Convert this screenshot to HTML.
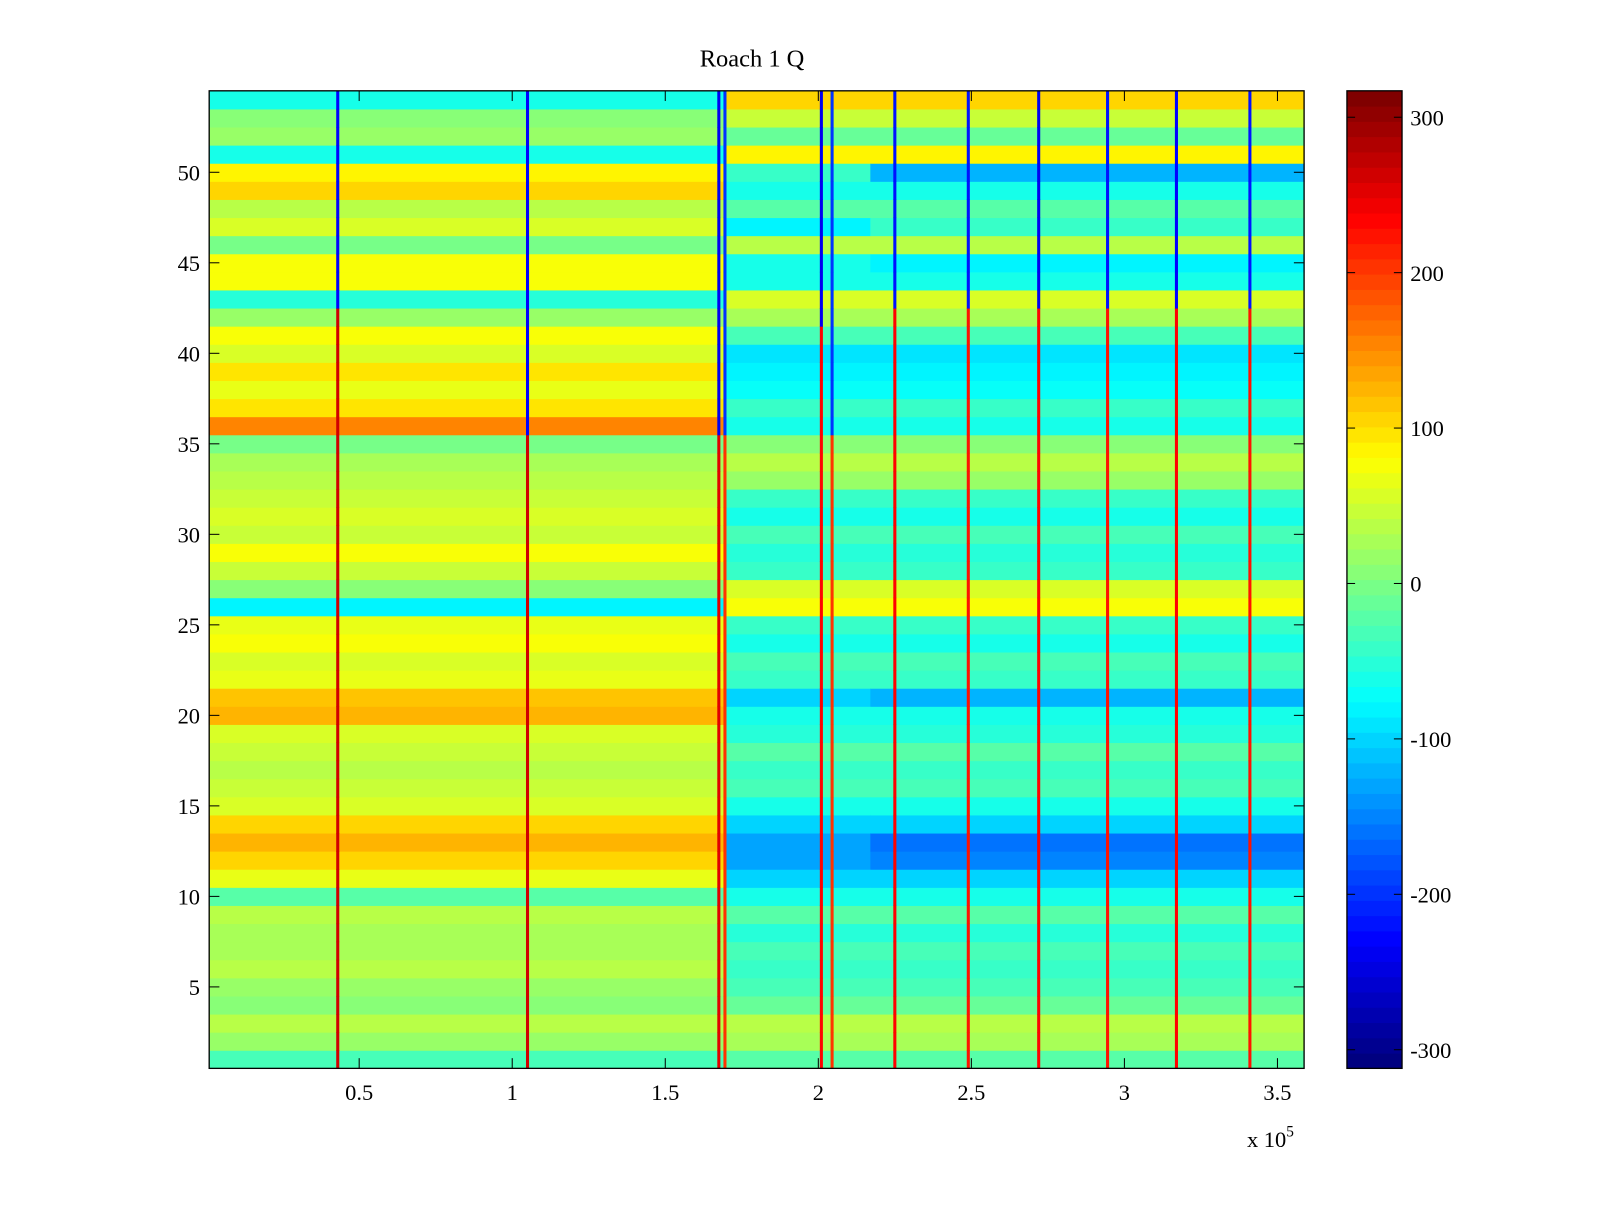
<!DOCTYPE html>
<html><head><meta charset="utf-8"><style>
body{margin:0;background:#fff}
svg text{font-family:"Liberation Serif",serif;fill:#000}
</style></head><body>
<svg id="chart" width="1600" height="1200" viewBox="0 0 1568 1176" preserveAspectRatio="none">
<rect width="1568" height="1176" fill="#fff"/>
<text x="737" y="65" font-size="24" text-anchor="middle">Roach 1 Q</text>
<g id="cells"></g>
<g id="lines"></g>
<g id="axes"></g>
<g id="cbar"></g>
</svg>
<script>
// rows 1..54 (bottom to top), base values per x-segment
const leftVals=[-30,20,40,10,20,40,30,30,40,-20,70,110,130,110,60,50,40,50,60,130,120,70,60,80,70,-80,10,50,80,50,60,50,40,30,0,150,100,70,100,60,80,20,-50,80,80,0,60,40,110,90,-60,20,10,-60];
const midVals=[-20,30,40,-10,-30,-40,-30,-50,-20,-60,-100,-130,-130,-100,-60,-30,-40,-20,-50,-60,-100,-40,-30,-60,-40,80,60,-40,-50,-30,-60,-40,20,40,10,-60,-40,-70,-80,-90,-30,30,60,-60,-60,40,-80,-20,-60,-40,90,-10,50,110];
const rightVals=[-20,30,40,-10,-30,-40,-30,-50,-20,-60,-100,-150,-160,-100,-60,-30,-40,-20,-50,-60,-120,-40,-30,-60,-40,80,60,-40,-50,-30,-60,-40,20,40,10,-60,-40,-70,-80,-90,-30,30,60,-60,-80,40,-40,-20,-60,-120,90,-10,50,110];
const segStart=[1000,170000,217000];
const segEnd=[170000,217000,358700];
const lineX=[43000,105000,167500,169500,201000,204500,225000,249000,272000,294500,317000,341000];
const lineFlipRow=[43,36,36,36,42,36,43,43,43,43,43,43];
const lineLow=[260,260,250,200,230,200,230,220,230,220,230,220];
const lineHigh=[-230,-230,-240,-200,-240,-200,-220,-220,-240,-220,-230,-220];
const xTicks=[0.5,1,1.5,2,2.5,3,3.5];
const yTicks=[5,10,15,20,25,30,35,40,45,50];
const cTicks=[300,200,100,0,-100,-200,-300];

const NS="http://www.w3.org/2000/svg";
const X0=205,X1=1278,Y0=89,Y1=1047;
const xmin=1000,xmax=358700,ymin=0.5,ymax=54.5,cmin=-312,cmax=317;
const sx=v=>X0+(v-xmin)/(xmax-xmin)*(X1-X0);
const sy=v=>Y1-(v-ymin)/(ymax-ymin)*(Y1-Y0);
function jet(v){let t=(v-cmin)/(cmax-cmin);t=Math.max(0,Math.min(1,t));t=Math.floor(t*63.999)/63;
 const f=x=>Math.round(255*Math.max(0,Math.min(1,x)));
 return `rgb(${f(1.5-Math.abs(4*t-3))},${f(1.5-Math.abs(4*t-2))},${f(1.5-Math.abs(4*t-1))})`;}
function mk(tag,attrs,parent){const e=document.createElementNS(NS,tag);for(const k in attrs)e.setAttribute(k,attrs[k]);parent.appendChild(e);return e;}
const cells=document.getElementById('cells');
const series=[leftVals,midVals,rightVals];
series.forEach((arr,s)=>{arr.forEach((v,i)=>{const r=i+1;
 const e=mk('rect',{x:sx(segStart[s]),y:sy(r+0.5),width:sx(segEnd[s])-sx(segStart[s])+0.5,height:sy(r-0.5)-sy(r+0.5)+0.5,fill:jet(v)},cells);
 
 });});
const lines=document.getElementById('lines');
lineX.forEach((lx,i)=>{for(let r=1;r<=54;r++){const v=r>=lineFlipRow[i]?lineHigh[i]:lineLow[i];
 const e=mk('rect',{x:sx(lx)-1.5,y:sy(r+0.5),width:3,height:sy(r-0.5)-sy(r+0.5)+0.5,fill:jet(v)},lines);
 
 }});
const ax=document.getElementById('axes');
mk('rect',{x:X0,y:Y0,width:X1-X0,height:Y1-Y0,fill:'none',stroke:'#000','stroke-width':1.3},ax);
xTicks.forEach(t=>{const x=sx(t*1e5);
 mk('line',{x1:x,x2:x,y1:Y1,y2:Y1-10,stroke:'#000'},ax);mk('line',{x1:x,x2:x,y1:Y0,y2:Y0+10,stroke:'#000'},ax);
 const tx=mk('text',{x:x,y:1078,'font-size':22,'text-anchor':'middle'},ax);tx.textContent=t;
 
 });
yTicks.forEach(t=>{const y=sy(t);
 mk('line',{x1:X0,x2:X0+10,y1:y,y2:y,stroke:'#000'},ax);mk('line',{x1:X1,x2:X1-10,y1:y,y2:y,stroke:'#000'},ax);
 const tx=mk('text',{x:196,y:y+8,'font-size':22,'text-anchor':'end'},ax);tx.textContent=t;
 
 });
const ex=mk('text',{x:1222,y:1124,'font-size':22},ax);ex.innerHTML='x 10<tspan dy="-10" font-size="15">5</tspan>';


const cb=document.getElementById('cbar');
const CX0=1320,CX1=1374;
for(let k=0;k<64;k++){const y0=Y1-(k+1)*(Y1-Y0)/64;const v=cmin+(k+0.5)*(cmax-cmin)/64;
 const e=mk('rect',{x:CX0,y:y0,width:CX1-CX0,height:(Y1-Y0)/64+0.5,fill:jet(v)},cb);
 
 }
mk('rect',{x:CX0,y:Y0,width:CX1-CX0,height:Y1-Y0,fill:'none',stroke:'#000','stroke-width':1.3},cb);
const cy=v=>Y1-(v-cmin)/(cmax-cmin)*(Y1-Y0);
cTicks.forEach(t=>{const y=cy(t);
 mk('line',{x1:CX0,x2:CX0+8,y1:y,y2:y,stroke:'#000'},cb);mk('line',{x1:CX1,x2:CX1-8,y1:y,y2:y,stroke:'#000'},cb);
 const tx=mk('text',{x:1382,y:y+8,'font-size':22},cb);tx.textContent=t;
 
 });
</script>
</body></html>
